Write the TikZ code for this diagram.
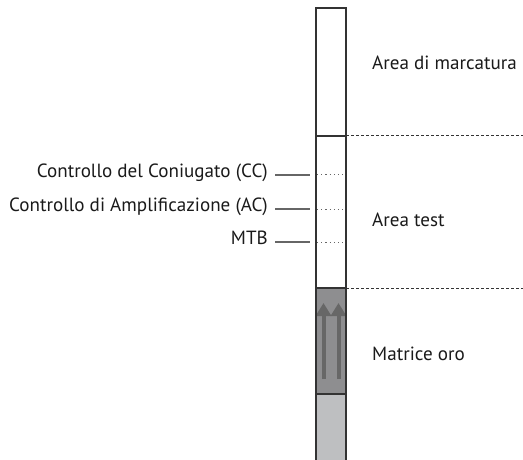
\documentclass[tikz,border=0pt]{standalone}
\usepackage{fontspec}
\setmainfont{PT Sans}
\usepackage{xcolor}
\usepackage{tikz}
\usetikzlibrary{positioning,arrows.meta}

\definecolor{txtgray}{HTML}{1A1A1A}
\definecolor{framegray}{HTML}{333333}
\definecolor{tickgray}{HTML}{666666}
\definecolor{padgray}{HTML}{8E8E90}
\definecolor{sinkgray}{HTML}{BEBFC1}
\definecolor{flowgray}{HTML}{676767}

\begin{document}
\begin{tikzpicture}[x=1pt,y=-1pt,
    lbl/.style={inner sep=0pt,text=txtgray,font=\fontsize{19.1}{21}\selectfont},
    frame/.style={draw=framegray,line width=1.1pt},
    tick/.style={draw=tickgray,line width=2pt},
    zone/.style={draw=framegray,line width=1pt,dash pattern=on 2.5pt off 2.5pt},
    band/.style={draw=tickgray,line width=1pt,dash pattern=on 1.2pt off 3pt},
    flow/.style={draw=flowgray,line width=4pt,-{Triangle[width=15pt,length=13pt]}}]
    \useasboundingbox (0,0) rectangle (523,460);

    % strip
    \fill[sinkgray] (316,394) rectangle (346,460);
    \fill[padgray] (316,288) rectangle (346,394);
    \draw[flow] (323.5,379) -- (323.5,303);
    \draw[flow] (338.5,379) -- (338.5,303);
    \draw[frame] (316,460) -- (316,8) -- (346,8) -- (346,460);
    \draw[frame] (316,136) -- (346,136);
    \draw[frame] (316,288) -- (346,288);
    \draw[frame] (316,394) -- (346,394);

    % zones
    \coordinate (z1) at (346,136);
    \coordinate (z1e) at (523,136);
    \coordinate (z2) at (346,288);
    \coordinate (z2e) at (523,288);
    \draw[zone] (z1) -- (z1e);
    \draw[zone] (z2) -- (z2e);

    \node[lbl,anchor=mid west] (mark) at (372,67) {Area di marcatura};
    \node[lbl,anchor=mid west] (test) at (372,224) {Area test};
    \node[lbl,anchor=mid west] (gold) at (372,358) {Matrice oro};

    % bands
    \node[lbl,anchor=mid east] (cc) at (268,175) {Controllo del Coniugato (CC)};
    \node[lbl,anchor=mid east] (ac) at (268,209) {Controllo di Amplificazione (AC)};
    \node[lbl,anchor=mid east] (mtb) at (268,242) {MTB};

    \coordinate (ccin) at (317,175);
    \coordinate (acin) at (317,209);
    \coordinate (mtbin) at (317,242);

    \draw[tick] ([xshift=7pt]cc.mid east) -- ([xshift=-7pt]ccin);
    \draw[tick] ([xshift=7pt]ac.mid east) -- ([xshift=-7pt]acin);
    \draw[tick] ([xshift=7pt]mtb.mid east) -- ([xshift=-7pt]mtbin);
    \draw[band] (ccin) -- +(28,0);
    \draw[band] (acin) -- +(28,0);
    \draw[band] (mtbin) -- +(28,0);
\end{tikzpicture}
\end{document}
